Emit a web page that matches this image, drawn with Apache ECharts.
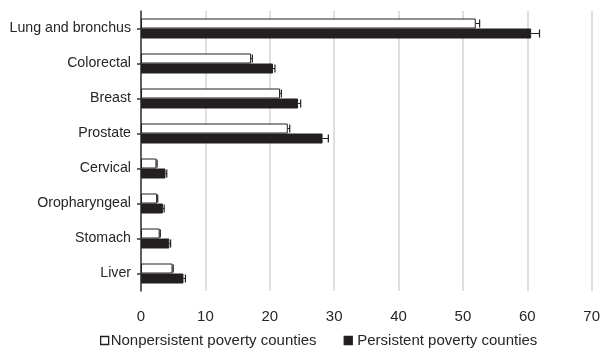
<!DOCTYPE html>
<html>
<head>
<meta charset="utf-8">
<script src="https://cdn.jsdelivr.net/npm/echarts@6/dist/echarts.min.js"></script>
<style>
  html, body { margin: 0; padding: 0; background: #fff; }
  #chart { width: 603px; height: 353px; }
</style>
</head>
<body>
<div id="chart"></div>
<script>
// Cancer sites, top to bottom
const categories = ['Lung and bronchus', 'Colorectal', 'Breast', 'Prostate', 'Cervical', 'Oropharyngeal', 'Stomach', 'Liver'];

// Rates for each county group
const nonpersistent = [52.0, 17.1, 21.6, 22.8, 2.4, 2.5, 2.9, 4.9];
const persistent = [60.6, 20.5, 24.4, 28.2, 3.8, 3.4, 4.4, 6.6];

// Upper confidence bound half-widths
const nonpersistentErr = [0.6, 0.2, 0.2, 0.3, 0.1, 0.1, 0.1, 0.1];
const persistentErr = [1.3, 0.3, 0.4, 0.9, 0.2, 0.2, 0.2, 0.3];

const xTicks = [0, 10, 20, 30, 40, 50, 60, 70];

const ink = '#231f20';
const barW = 10;

function errorData(values, errs) {
  return values.map((v, i) => [v, i, v + errs[i]]);
}

function errorRenderer(offset) {
  return function (params, api) {
    const c = api.value(1);
    const p0 = api.coord([api.value(0), c]);
    const p1 = api.coord([api.value(2), c]);
    const y = p0[1] + offset;
    const half = 4;
    return {
      type: 'group',
      children: [
        { type: 'line', shape: { x1: p0[0], y1: y, x2: p1[0], y2: y }, style: { stroke: ink, lineWidth: 1 } },
        { type: 'line', shape: { x1: p1[0], y1: y - half, x2: p1[0], y2: y + half }, style: { stroke: ink, lineWidth: 1.2 } }
      ]
    };
  };
}

const chart = echarts.init(document.getElementById('chart'), null, { renderer: 'canvas' });

chart.setOption({
  animation: false,
  backgroundColor: '#fff',
  textStyle: { fontFamily: 'Liberation Sans, Arial, sans-serif' },
  grid: { left: 141, right: 10, top: 11, bottom: 62, containLabel: false },
  legend: {
    data: [
      { name: 'Nonpersistent poverty counties', textStyle: { padding: [0, 0, 0, -3] } },
      { name: 'Persistent poverty counties', textStyle: { padding: [0, 0, 0, 0] } }
    ],
    left: 100,
    top: 333,
    padding: 0,
    itemWidth: 8,
    itemHeight: 8,
    itemGap: 27,
    icon: 'rect',
    itemStyle: { borderWidth: 1.3 },
    textStyle: { fontSize: 15, color: '#262626' }
  },
  xAxis: {
    type: 'value',
    min: 0,
    max: 70,
    interval: 10,
    axisLine: { show: false },
    axisTick: { show: false },
    axisLabel: {
      fontSize: 15,
      color: '#262626',
      margin: 18,
      formatter: v => (xTicks.indexOf(v) >= 0 ? String(v) : '')
    },
    splitLine: { show: true, lineStyle: { color: '#d4d4d4', width: 1.5 } }
  },
  yAxis: {
    type: 'category',
    data: categories,
    inverse: true,
    axisLine: { show: true, lineStyle: { color: '#333', width: 1.5 } },
    axisTick: { show: true, alignWithLabel: true, length: 4, lineStyle: { color: '#333', width: 1.5 } },
    axisLabel: { fontSize: 14.2, color: '#262626', margin: 10 },
    splitLine: { show: false }
  },
  series: [
    {
      name: 'Nonpersistent poverty counties',
      type: 'bar',
      data: nonpersistent,
      barWidth: barW,
      barGap: '0%',
      itemStyle: { color: '#ffffff', borderColor: ink, borderWidth: 1 }
    },
    {
      name: 'Persistent poverty counties',
      type: 'bar',
      data: persistent,
      barWidth: barW,
      barGap: '0%',
      itemStyle: { color: ink, borderColor: ink, borderWidth: 1 }
    },
    {
      name: 'nonpersistent-ci',
      type: 'custom',
      data: errorData(nonpersistent, nonpersistentErr),
      encode: { x: [0, 2], y: 1 },
      renderItem: errorRenderer(-barW / 2),
      z: 3
    },
    {
      name: 'persistent-ci',
      type: 'custom',
      data: errorData(persistent, persistentErr),
      encode: { x: [0, 2], y: 1 },
      renderItem: errorRenderer(barW / 2),
      z: 3
    }
  ]
});
</script>
</body>
</html>
